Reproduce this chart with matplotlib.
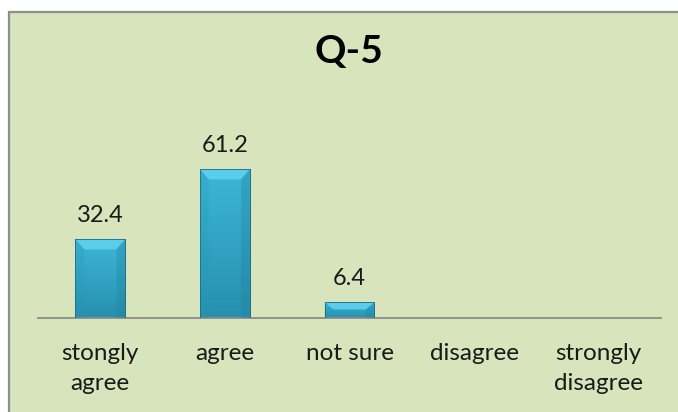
import numpy as np
import matplotlib
matplotlib.use("Agg")
from matplotlib import pyplot as plt
from matplotlib.patches import Polygon, Rectangle
from matplotlib.colors import LinearSegmentedColormap

categories = ["stongly\nagree", "agree", "not sure", "disagree", "strongly\ndisagree"]
values = [32.4, 61.2, 6.4, 0, 0]
title = "Q-5"

plt.rcParams['font.family'] = ['Lato', 'DejaVu Sans']

fig = plt.figure(figsize=(6.78, 4.12), dpi=100)
fig.patch.set_facecolor('white')

# green chart area with gray frame on left/top
frame = Rectangle((9/678, -0.1), 1.2, (412-12)/412 + 0.1, transform=fig.transFigure,
                  facecolor='#D8E4BC', edgecolor='#8E8E8E', linewidth=1.6, zorder=-5)
fig.patches.append(frame)

ax = fig.add_axes([38/678, 94/412, 623/678, 219/412])
ax.set_zorder(2)
ax.set_facecolor('none')
for s in ['top', 'right', 'left']:
    ax.spines[s].set_visible(False)
ax.spines['bottom'].set_color('#8C8C8C')
ax.spines['bottom'].set_linewidth(1.3)
ax.set_yticks([])
ax.set_xticks(range(len(categories)))
ax.set_xticklabels(categories, fontsize=17.5, color='#1a1a1a', linespacing=1.55)
ax.tick_params(axis='x', length=0, pad=18)

x = np.arange(len(values))
w = 0.40
bars = ax.bar(x, values, width=w, color='#33A8CA', edgecolor='#1E6E86', linewidth=0.6, zorder=2)

grad = LinearSegmentedColormap.from_list('g', ['#2690AE', '#3DB6D8'])
g = np.linspace(0, 1, 64).reshape(-1, 1)
for b, v in zip(bars, values):
    if v <= 0:
        continue
    x0, x1 = b.get_x(), b.get_x() + b.get_width()
    im = ax.imshow(g, cmap=grad, extent=(x0, x1, 0, v), origin='lower',
                   aspect='auto', zorder=2.5)
    im.set_clip_path(b)
    # bevelled top
    bh = min(4.2, v * 0.45)
    dx = 0.07
    ax.add_patch(Polygon([(x0, v), (x1, v), (x1 - dx, v - bh), (x0 + dx, v - bh)],
                         closed=True, facecolor='#5ACDEB', edgecolor='none', zorder=3))
    # subtle side bevels
    ax.add_patch(Polygon([(x0, v), (x0 + dx, v - bh), (x0 + dx, 0), (x0, 0)],
                         closed=True, facecolor='#2B97B6', edgecolor='none', zorder=3, alpha=0.25))
    ax.add_patch(Polygon([(x1, v), (x1 - dx, v - bh), (x1 - dx, 0), (x1, 0)],
                         closed=True, facecolor='#1F7F9B', edgecolor='none', zorder=3, alpha=0.3))
    ax.add_patch(Rectangle((x0, 0), x1 - x0, v, facecolor='none', edgecolor='#1E6E86',
                           linewidth=0.6, zorder=4))
    ax.text(b.get_x() + w / 2, v + 5.5, f"{v}", ha='center', va='bottom',
            fontsize=17, color='#1a1a1a')

ax.set_xlim(-0.5, 4.5)
ax.set_ylim(0, 90)

fig.text(349/678, 1 - 51/412, title, ha='center', va='center', fontsize=28,
         fontweight='bold', color='black')

fig.savefig('out.png', dpi=100, facecolor='white')
